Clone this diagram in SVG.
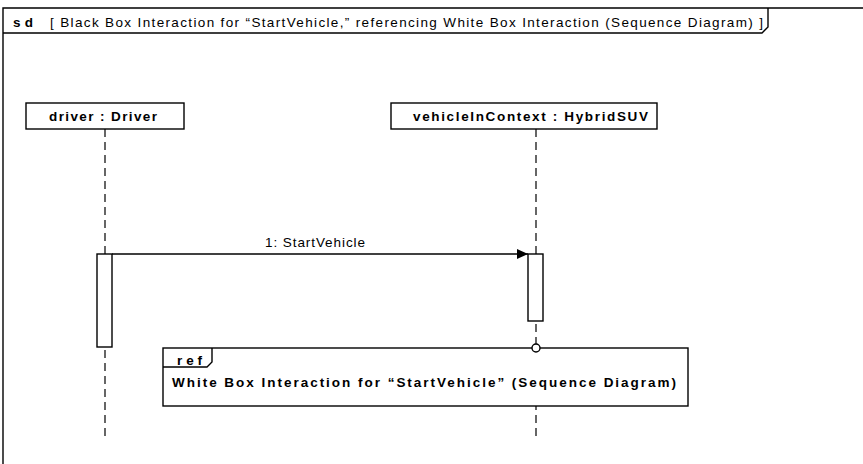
<svg xmlns="http://www.w3.org/2000/svg" width="863" height="464" viewBox="0 0 863 464">
<style>
.ln{fill:none;stroke:#000;stroke-width:1.4}
.box{fill:#fff;stroke:#000;stroke-width:1.4}
.life{fill:none;stroke:#000;stroke-width:1.2;stroke-dasharray:8,5}
.t{font-family:"Liberation Sans",Arial,sans-serif;font-size:13.5px;fill:#000}
.b{font-weight:bold}
</style>
<defs>
<marker id="arr" markerWidth="12" markerHeight="10" refX="11" refY="5" orient="auto" markerUnits="userSpaceOnUse">
<path d="M0,0 L11,5 L0,10 Z" fill="#000"/>
</marker>
</defs>
<rect x="0" y="0" width="863" height="464" fill="#fff"/>
<g id="frame">
<path class="ln" d="M3,470 L3,8 L870,8"/>
<path class="ln" d="M3,33 L762,33 L768,27 L768,8"/>
<text class="t b" x="13" y="27" textLength="20" lengthAdjust="spacing">sd</text>
<text class="t" x="50" y="27" textLength="713" lengthAdjust="spacing">[ Black Box Interaction for “StartVehicle,” referencing White Box Interaction (Sequence Diagram) ]</text>
</g>
<g id="connectors">
<line class="life" x1="105" y1="129" x2="105" y2="440"/>
<line class="life" x1="536" y1="129" x2="536" y2="440"/>
<line class="ln" x1="112" y1="254" x2="528" y2="254" marker-end="url(#arr)"/>
<text class="t" x="265" y="247" textLength="100" lengthAdjust="spacing">1: StartVehicle</text>
</g>
<g id="driver">
<rect class="box" x="26" y="103" width="158" height="26"/>
<text class="t b" x="49" y="121" textLength="108" lengthAdjust="spacing">driver : Driver</text>
</g>
<g id="vehicleInContext">
<rect class="box" x="391" y="103" width="266" height="26"/>
<text class="t b" x="413" y="121" textLength="235" lengthAdjust="spacing">vehicleInContext : HybridSUV</text>
</g>
<g id="driverActivation">
<rect class="box" x="97" y="254" width="15" height="93"/>
</g>
<g id="vehicleActivation">
<rect class="box" x="528" y="254" width="15" height="67"/>
</g>
<g id="ref">
<rect class="box" x="163" y="348" width="525" height="58"/>
<path class="ln" d="M163,367 L207,367 L212,362 L212,348"/>
<text class="t b" x="177" y="365" textLength="25" lengthAdjust="spacing">ref</text>
<text class="t b" x="172" y="387" textLength="504" lengthAdjust="spacing">White Box Interaction for “StartVehicle” (Sequence Diagram)</text>
<circle cx="536" cy="348" r="4" fill="#fff" stroke="#000" stroke-width="1.4"/>
</g>
</svg>
